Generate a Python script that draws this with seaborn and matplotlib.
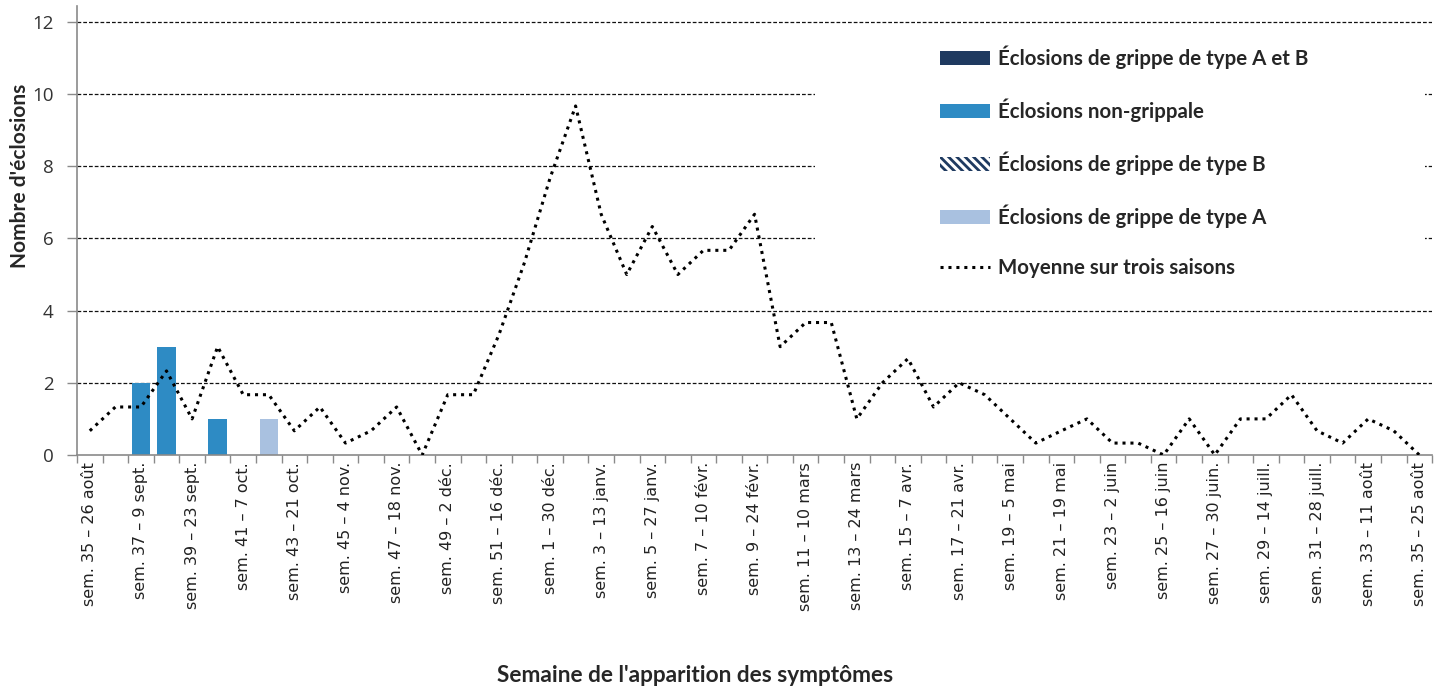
import pandas as pd
import seaborn as sns
from matplotlib import pyplot as plt
from matplotlib.patches import Patch, Rectangle
from matplotlib.lines import Line2D

# week categories (sem. 35 -> sem. 35 of next year)
weeks = list(range(35, 53)) + list(range(1, 36))
pos = list(range(len(weeks)))

tick_labels = ['sem. 35 – 26 août', 'sem. 37 – 9 sept.', 'sem. 39 – 23 sept.', 'sem. 41 – 7 oct.',
               'sem. 43 – 21 oct.', 'sem. 45 – 4 nov.', 'sem. 47 – 18 nov.', 'sem. 49 – 2 déc.',
               'sem. 51 – 16 déc.', 'sem. 1 – 30 déc.', 'sem. 3 – 13 janv.', 'sem. 5 – 27 janv.',
               'sem. 7 – 10 févr.', 'sem. 9 – 24 févr.', 'sem. 11 – 10 mars', 'sem. 13 – 24 mars',
               'sem. 15 – 7 avr.', 'sem. 17 – 21 avr.', 'sem. 19 – 5 mai', 'sem. 21 – 19 mai',
               'sem. 23 – 2 juin', 'sem. 25 – 16 juin', 'sem. 27 – 30 juin.', 'sem. 29 – 14 juill.',
               'sem. 31 – 28 juill.', 'sem. 33 – 11 août', 'sem. 35 – 25 août']

n = len(weeks)
flu_ab = [0] * n
non_flu = [0, 0, 2, 3, 0, 1] + [0] * (n - 6)
flu_b = [0] * n
flu_a = [0] * 7 + [1] + [0] * (n - 8)

avg3 = [0.67, 1.33, 1.33, 2.33, 1.0, 3.0, 1.67, 1.67, 0.67, 1.33,
        0.33, 0.67, 1.33, 0.0, 1.67, 1.67, 3.33, 5.33, 7.67, 9.67,
        6.67, 5.0, 6.33, 5.0, 5.67, 5.67, 6.67, 3.0, 3.67, 3.67,
        1.0, 2.0, 2.67, 1.33, 2.0, 1.67, 1.0, 0.33, 0.67, 1.0,
        0.33, 0.33, 0.0, 1.0, 0.0, 1.0, 1.0, 1.67, 0.67, 0.33,
        1.0, 0.67, 0.0]

names = ['Éclosions de grippe de type A et B', 'Éclosions non-grippale',
         'Éclosions de grippe de type B', 'Éclosions de grippe de type A']
colors = ['#1f3a60', '#2e8bc4', '#ffffff', '#a9c1e0']
navy = '#1f3a60'

bars = pd.DataFrame({
    'pos': pos * 4,
    'count': flu_ab + non_flu + flu_b + flu_a,
    'type': [nm for nm in names for _ in pos],
})
line = pd.DataFrame({'pos': pos, 'avg': avg3})

sns.set_style('white')
plt.rcParams['font.family'] = ['DejaVu Sans']
plt.rcParams['hatch.linewidth'] = 2.0
plt.rcParams['hatch.color'] = navy

fig = plt.figure(figsize=(14.37, 6.92), dpi=100)
ax = fig.add_axes([0.0536, 0.3425, 0.943, 0.6494])

sns.barplot(bars, x='pos', y='count', hue='type', hue_order=names, palette=colors, saturation=1,
            dodge=False, width=0.72, linewidth=0, ax=ax, legend=False, zorder=2)
sns.lineplot(line, x='pos', y='avg', color='black', linestyle=(0, (1, 1.6)), linewidth=2.2,
             ax=ax, zorder=3)

ax.set_xlim(-0.5, n - 0.5)
ax.set_ylim(0, 12.45)
ax.set_yticks(range(0, 13, 2))
ax.set_yticklabels([str(v) for v in range(0, 13, 2)], family='Open Sans', fontsize=13.5, color='#333333')
for v in range(2, 13, 2):
    ax.axhline(v, color='#111111', linestyle=(0, (3, 1.6)), linewidth=0.9, zorder=0.5)

# tick marks on category boundaries, labels every 2 weeks
ax.set_xticks([p - 0.5 for p in range(n + 1)])
ax.set_xticklabels([])
ax.set_xticks(pos[::2], minor=True)
ax.set_xticklabels(tick_labels, minor=True, rotation=90, fontsize=11.5, color='#222222')
ax.tick_params(axis='x', which='major', length=6, width=1, color='#8a8a8a', direction='out', bottom=True)
ax.tick_params(axis='x', which='minor', length=0, pad=5)
ax.tick_params(axis='y', length=7, width=1, color='#8a8a8a', direction='out', left=True, pad=10)

for s in ['top', 'right']:
    ax.spines[s].set_visible(False)
for s in ['left', 'bottom']:
    ax.spines[s].set_color('#8a8a8a')
    ax.spines[s].set_linewidth(1.2)

ax.set_xlabel(None)
ax.set_ylabel("Nombre d'éclosions", family='Lato', fontweight='bold', fontsize=15)
ax.yaxis.set_label_coords(-0.0346, 0.62)
fig.text(0.4835, 0.008, "Semaine de l'apparition des symptômes", family='Lato', fontweight='bold',
         fontsize=16.3, ha='center', va='bottom')

# white box behind the legend hides the gridlines
ax.add_patch(Rectangle((0.5446, 4.6), 0.45, 7.0, transform=ax.get_yaxis_transform(),
                       facecolor='white', edgecolor='none', zorder=1))

handles = [Patch(facecolor=colors[0], edgecolor='none'),
           Patch(facecolor=colors[1], edgecolor='none'),
           Patch(facecolor='white', edgecolor=navy, hatch='\\\\\\\\', linewidth=0),
           Patch(facecolor=colors[3], edgecolor='none'),
           Line2D([], [], color='black', linestyle=(0, (1, 1.6)), linewidth=2.2)]
leg = ax.legend(handles, names + ['Moyenne sur trois saisons'], loc='upper left',
                bbox_to_anchor=(0.647, 0.949), bbox_transform=fig.transFigure, frameon=False,
                prop={'family': 'Lato', 'weight': 'bold', 'size': 14.8}, labelspacing=1.44,
                handlelength=2.45, handleheight=0.7, handletextpad=0.35, borderpad=0)
leg.set_zorder(5)

fig.savefig('out.png', dpi=100)
